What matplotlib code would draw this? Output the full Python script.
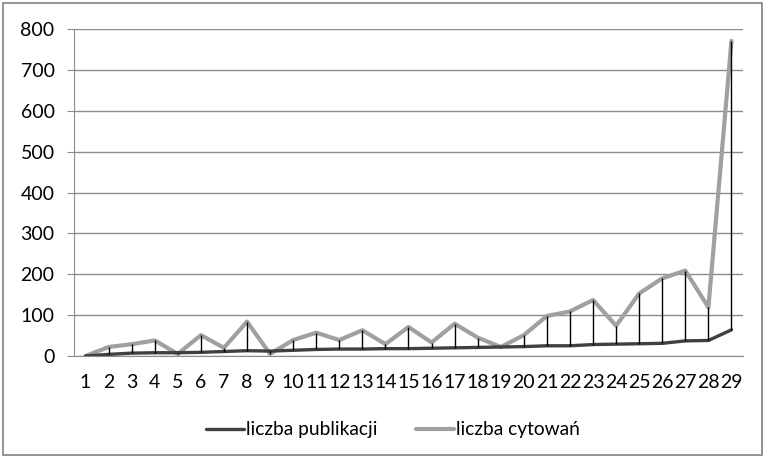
import numpy as np
import matplotlib.pyplot as plt
from matplotlib.patches import Rectangle

# kolejne okresy
okresy = list(range(1, 30))

liczba_publikacji = [0, 4, 7, 8, 8, 9, 11, 13, 12, 14, 16, 17, 17, 18, 18,
                     19, 20, 21, 22, 23, 25, 25, 28, 29, 30, 31, 37, 38, 64]
liczba_cytowan = [0, 22, 29, 38, 5, 51, 20, 84, 5, 39, 57, 39, 63, 29, 71,
                  33, 79, 45, 22, 51, 98, 109, 137, 74, 153, 190, 209, 119, 771]

plt.rcParams['font.family'] = ['Lato', 'DejaVu Sans']

fig = plt.figure(figsize=(7.66, 4.58), dpi=100)
ax = fig.add_axes([74 / 766, 1 - 356 / 458, (743 - 74) / 766, (356 - 29) / 458])

x = np.array(okresy)
pub = np.array(liczba_publikacji)
cyt = np.array(liczba_cytowan)

# linie min-max pomiędzy seriami
ax.vlines(x, pub, cyt, color='black', lw=1, zorder=4)
ax.plot(x, pub, color='#404040', lw=2.4, solid_capstyle='round', zorder=3,
        label='liczba publikacji')
ax.plot(x, cyt, color='#a0a0a0', lw=3, solid_capstyle='round', zorder=2,
        label='liczba cytowań')

ax.set_xlim(0.5, 29.5)
ax.set_ylim(0, 800)
ax.set_yticks(range(0, 801, 100))
ax.set_xticks(x)
ax.set_xticklabels([str(v) for v in okresy])
ax.yaxis.grid(True, color='#8c8c8c', lw=1)
ax.set_axisbelow(True)

for side in ['top', 'right']:
    ax.spines[side].set_visible(False)
ax.spines['left'].set_color('#8c8c8c')
ax.spines['bottom'].set_color('#8c8c8c')
ax.tick_params(axis='y', length=5, color='#8c8c8c', labelsize=14, pad=9)
ax.tick_params(axis='x', length=0, labelsize=14, pad=13)

fig.legend(loc='center', bbox_to_anchor=(393 / 766, 1 - 430 / 458), ncol=2,
           frameon=False, fontsize=13.8, handlelength=2.0, handletextpad=0.1,
           columnspacing=2.0)

# ramka wokół wykresu
fig.patches.append(Rectangle((3 / 766, 3 / 458), 759 / 766, 452 / 458,
                             transform=fig.transFigure, fill=False,
                             edgecolor='#808080', lw=1.2))

fig.savefig('out.png', dpi=100)
